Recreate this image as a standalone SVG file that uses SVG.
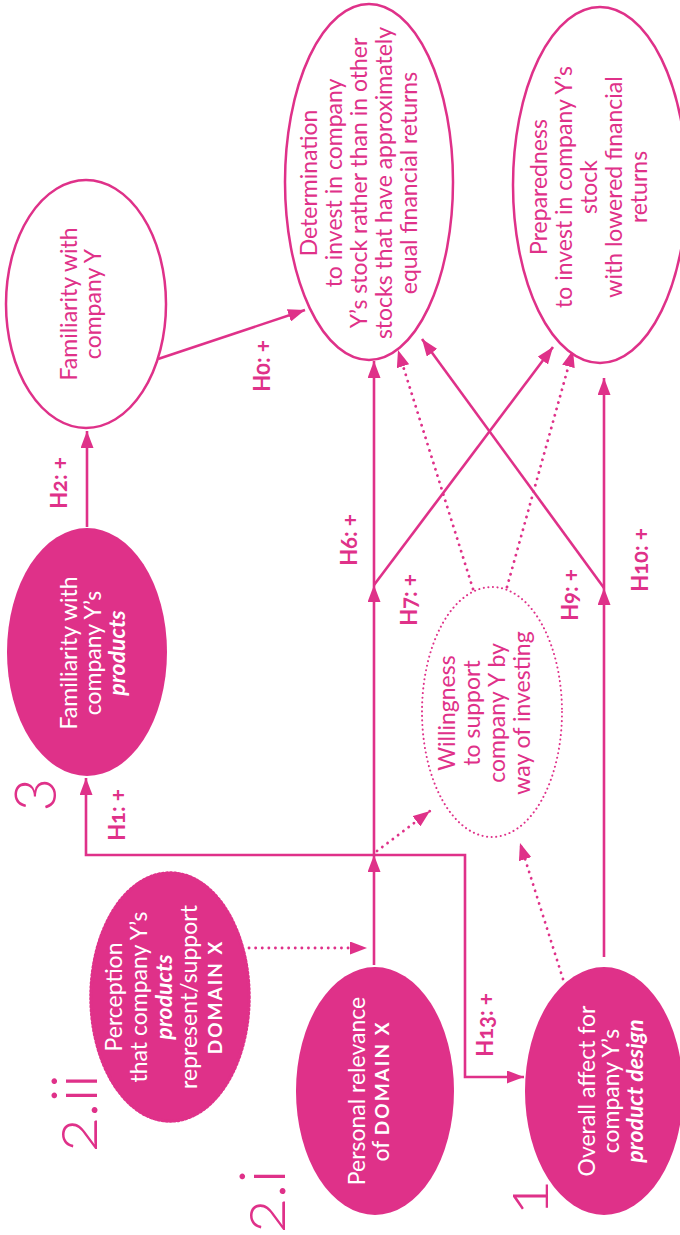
<svg xmlns="http://www.w3.org/2000/svg" width="680" height="1235" viewBox="0 0 680 1235">
<defs>
<marker id="ah" markerUnits="userSpaceOnUse" markerWidth="17" markerHeight="13" refX="17" refY="6.5" orient="auto" viewBox="0 0 17 13">
<path d="M0,0 L17,6.5 L0,13 z" fill="#DF3189"/>
</marker>
<style>
.t{font-family:Lato,"Liberation Sans",sans-serif;font-size:23px;fill:#DF3189;text-anchor:middle}
.w{fill:#fff}
.b{font-weight:bold;font-style:italic}
.dx{font-weight:bold;font-size:19px;letter-spacing:2px}
.lbl{font-family:Lato,"Liberation Sans",sans-serif;font-size:22px;font-weight:bold;fill:#DF3189;text-anchor:middle;font-variant-numeric:oldstyle-nums}
.num{font-family:Lato,"Liberation Sans",sans-serif;font-size:64px;font-weight:300;fill:#DF3189;font-variant-numeric:oldstyle-nums}
.open{fill:#fff;stroke:#DF3189;stroke-width:2.5}
.fill{fill:#DF3189}
.dotted{fill:#fff;stroke:#DF3189;stroke-width:2;stroke-dasharray:0.1 4.5;stroke-linecap:round}
.ln{fill:none;stroke:#DF3189;stroke-width:2.6;marker-end:url(#ah)}
.dl{fill:none;stroke:#DF3189;stroke-width:2.8;stroke-dasharray:0.1 6.5;stroke-linecap:round;marker-end:url(#ah)}
</style>
</defs>

<g id="connectors">
<path class="ln" d="M87,527 L87,431"/>
<path class="ln" d="M158,359 L305,310"/>
<path class="ln" d="M374,965 L374,855"/>
<path class="ln" d="M374,855 L374,585"/>
<path class="ln" d="M374,585 L374,361"/>
<path class="ln" d="M374,585 L553,347"/>
<path class="ln" d="M374,855 L86,855 L86,778"/>
<path class="ln" d="M374,855 L465,855 L465,1077 L524,1077"/>
<path class="ln" d="M604,957 L604,588"/>
<path class="ln" d="M604,588 L604,378"/>
<path class="ln" d="M604,588 L422,339"/>
<path class="dl" d="M249,948 L367,948"/>
<path class="dl" d="M377,851 L430,811"/>
<path class="dl" d="M563,979 L520,843"/>
<path class="dl" d="M473,589 L398,350"/>
<path class="dl" d="M507,587 L573,350"/>
</g>

<g id="labels">
<text class="lbl" transform="translate(67,483) rotate(-90)">H2: +</text>
<text class="lbl" transform="translate(270,366) rotate(-90)">H0: +</text>
<text class="lbl" transform="translate(125,815) rotate(-90)">H1: +</text>
<text class="lbl" transform="translate(357,540) rotate(-90)">H6: +</text>
<text class="lbl" transform="translate(417,600) rotate(-90)">H7: +</text>
<text class="lbl" transform="translate(578,595) rotate(-90)">H9: +</text>
<text class="lbl" transform="translate(648,560) rotate(-90)">H10: +</text>
<text class="lbl" transform="translate(493,1025) rotate(-90)">H13: +</text>
</g>

<g id="section-numbers">
<text class="num" transform="translate(50,812) rotate(-90)">3</text>
<text class="num" transform="translate(97,1152) rotate(-90)">2.ii</text>
<text class="num" transform="translate(285,1233) rotate(-90)">2.i</text>
<text class="num" transform="translate(548,1215) rotate(-90)">1</text>
</g>

<g id="familiarity-company">
<ellipse class="open" cx="86" cy="304" rx="80" ry="124"/>
<text class="t" transform="translate(86,304) rotate(-90)"><tspan x="0" y="-9">Familiarity with</tspan><tspan x="0" y="15">company Y</tspan></text>
</g>

<g id="familiarity-products">
<ellipse class="fill" cx="87" cy="652" rx="80" ry="124"/>
<text class="t w" transform="translate(87,653) rotate(-90)"><tspan x="0" y="-10">Familiarity with</tspan><tspan x="0" y="14">company Y’s</tspan><tspan class="b" x="0" y="38">products</tspan></text>
</g>

<g id="perception">
<ellipse class="fill" cx="170" cy="997" rx="79" ry="124" stroke="#DF3189" stroke-width="3.5" stroke-dasharray="1.5 2.5" stroke-linecap="round"/>
<text class="t w" transform="translate(170,997) rotate(-90)"><tspan x="0" y="-48">Perception</tspan><tspan x="0" y="-23">that company Y’s</tspan><tspan class="b" x="0" y="2">products</tspan><tspan x="0" y="27">represent/support</tspan><tspan class="dx" x="0" y="52">DOMAIN X</tspan></text>
</g>

<g id="personal-relevance">
<ellipse class="fill" cx="375" cy="1091" rx="79" ry="124"/>
<text class="t w" transform="translate(375,1091) rotate(-90)"><tspan x="0" y="-10">Personal relevance</tspan><tspan x="0" y="14">of <tspan class="dx">DOMAIN X</tspan></tspan></text>
</g>

<g id="overall-affect">
<ellipse class="fill" cx="604" cy="1091" rx="79" ry="124"/>
<text class="t w" transform="translate(612,1091) rotate(-90)"><tspan x="0" y="-17">Overall affect for</tspan><tspan x="0" y="7">company Y’s</tspan><tspan class="b" x="0" y="31">product design</tspan></text>
</g>

<g id="willingness">
<ellipse class="dotted" cx="492" cy="712" rx="70" ry="125"/>
<text class="t" transform="translate(492,713) rotate(-90)"><tspan x="0" y="-37">Willingness</tspan><tspan x="0" y="-12">to support</tspan><tspan x="0" y="13">company Y by</tspan><tspan x="0" y="38">way of investing</tspan></text>
</g>

<g id="determination">
<ellipse class="open" cx="369" cy="182" rx="84" ry="178"/>
<text class="t" transform="translate(369,183) rotate(-90)"><tspan x="0" y="-52">Determination</tspan><tspan x="0" y="-27">to invest in company</tspan><tspan x="0" y="-2">Y’s stock rather than in other</tspan><tspan x="0" y="23">stocks that have approximately</tspan><tspan x="0" y="48">equal financial returns</tspan></text>
</g>

<g id="preparedness">
<ellipse class="open" cx="600" cy="185" rx="87" ry="178"/>
<text class="t" transform="translate(600,187) rotate(-90)"><tspan x="0" y="-53">Preparedness</tspan><tspan x="0" y="-28">to invest in company Y’s</tspan><tspan x="0" y="-3">stock</tspan><tspan x="0" y="22">with lowered financial</tspan><tspan x="0" y="47">returns</tspan></text>
</g>
</svg>
